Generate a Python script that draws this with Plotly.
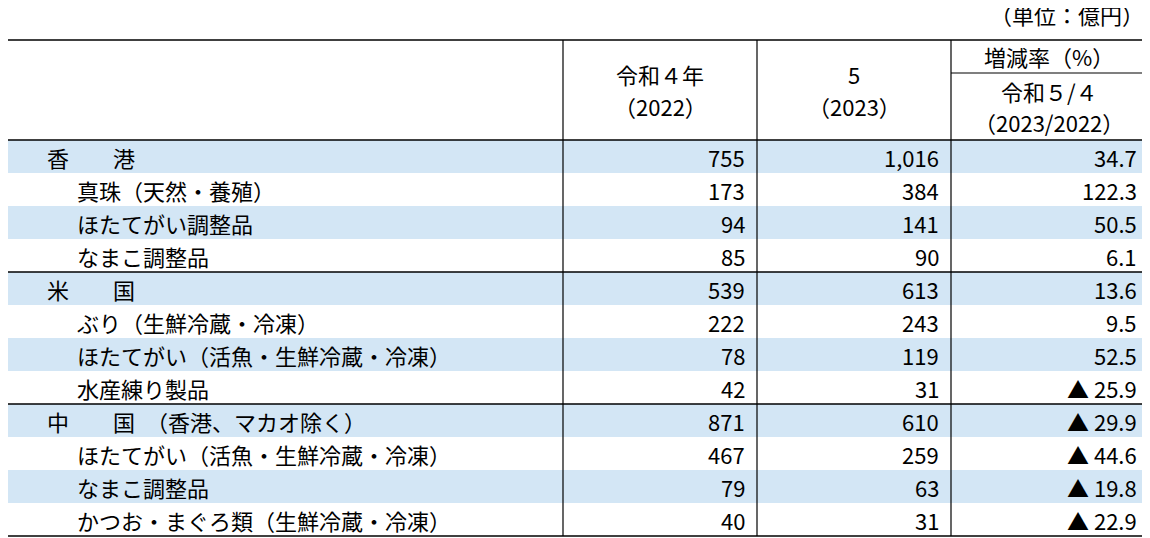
import plotly.graph_objects as go

labels = ["香　　港", "真珠（天然・養殖）", "ほたてがい調整品", "なまこ調整品",
          "米　　国", "ぶり（生鮮冷蔵・冷凍）", "ほたてがい（活魚・生鮮冷蔵・冷凍）", "水産練り製品",
          "中　　国　（香港、マカオ除く）", "ほたてがい（活魚・生鮮冷蔵・冷凍）", "なまこ調整品",
          "かつお・まぐろ類（生鮮冷蔵・冷凍）"]
is_country = [True, False, False, False, True, False, False, False, True, False, False, False]
v2022 = ["755", "173", "94", "85", "539", "222", "78", "42", "871", "467", "79", "40"]
v2023 = ["1,016", "384", "141", "90", "613", "243", "119", "31", "610", "259", "63", "31"]
rate = ["34.7", "122.3", "50.5", "6.1", "13.6", "9.5", "52.5", "▲ 25.9",
        "▲ 29.9", "▲ 44.6", "▲ 19.8", "▲ 22.9"]

W, H = 1150, 538
OFF = 8  # page body margin
L, R = 2, 1147
cols = [L, 563, 757, 951, R]
top, head_bot, bot = 40, 140, 536
rh = (bot - head_bot) / len(labels)
blue = "#d3e6f5"
FONT = "Noto Sans CJK JP"
fs = 22

shapes, ann = [], []
def line(x0, y0, x1, y1, w=1.2):
    shapes.append(dict(type="line", x0=x0, y0=y0, x1=x1, y1=y1,
                       line=dict(color="black", width=w)))
def text(x, y, s, anchor="center"):
    ann.append(dict(x=x, y=y, text=s, showarrow=False, xanchor=anchor, yanchor="middle",
                    font=dict(family=FONT, size=fs, color="black")))

for i in range(len(labels)):
    y0 = head_bot + i * rh
    if i % 2 == 0:
        shapes.append(dict(type="rect", x0=L, x1=R, y0=y0, y1=y0 + rh,
                           fillcolor=blue, line=dict(width=0), layer="below"))
    yc = y0 + rh / 2
    text(45 if is_country[i] else 75, yc, labels[i], "left")
    text(cols[2] - 10, yc, v2022[i], "right")
    text(cols[3] - 10, yc, v2023[i], "right")
    text(cols[4] - 8, yc, rate[i], "right")
    if is_country[i]:
        line(L, y0, R, y0, 1.5)

line(L, top, R, top, 1.5)
line(L, bot, R, bot, 1.5)
for x in cols:
    line(x, top, x, bot)
line(cols[3], 73, R, 73)

text(1146, 14, "（単位：億円）", "right")
text((cols[1] + cols[2]) / 2, 74, "令和４年")
text((cols[1] + cols[2]) / 2, 106, "（2022）")
text((cols[2] + cols[3]) / 2, 74, "5")
text((cols[2] + cols[3]) / 2, 106, "（2023）")
text((cols[3] + cols[4]) / 2, 56, "増減率（%）")
text((cols[3] + cols[4]) / 2, 91, "令和５/４")
text((cols[3] + cols[4]) / 2, 122, "（2023/2022）")

fig = go.Figure()
fig.update_layout(width=W - OFF, height=H - OFF, margin=dict(l=0, r=0, t=0, b=0),
                  plot_bgcolor="white", paper_bgcolor="white",
                  shapes=shapes, annotations=ann,
                  xaxis=dict(range=[OFF, W], visible=False, fixedrange=True),
                  yaxis=dict(range=[H, OFF], visible=False, fixedrange=True))
fig.write_html("out.html")
